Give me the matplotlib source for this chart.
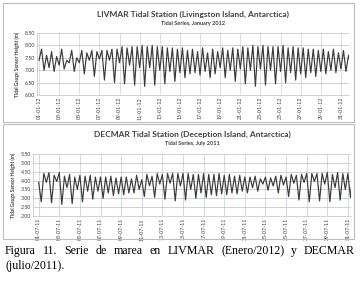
import matplotlib
matplotlib.use("Agg")
import matplotlib.pyplot as plt
from matplotlib.patches import Rectangle
import numpy as np

# tidal extrema, 4 per day
liv_start = 7.40
liv_extrema = [
    7.85, 7.00, 7.60, 7.10,  7.75, 6.95, 7.55, 7.20,  7.85, 7.05, 7.40, 7.30,
    7.80, 6.95, 7.50, 7.30,  7.80, 6.85, 7.70, 7.40,  7.80, 6.75, 7.75, 7.45,
    7.80, 6.60, 7.80, 7.40,  7.85, 6.50, 7.85, 7.30,  7.95, 6.45, 7.90, 7.20,
    7.95, 6.40, 7.95, 7.10,  8.00, 6.35, 7.95, 7.10,  8.00, 6.40, 7.95, 7.00,
    7.95, 6.45, 7.90, 6.95,  7.90, 6.55, 7.85, 6.90,  7.90, 6.70, 7.80, 6.85,
    7.85, 6.90, 7.75, 6.80,  7.90, 6.95, 7.70, 6.70,  7.85, 6.85, 7.75, 7.10,
    7.90, 6.70, 7.80, 7.00,  7.90, 6.55, 7.85, 7.05,  7.95, 6.45, 7.90, 7.00,
    8.00, 6.35, 7.95, 7.05,  8.00, 6.40, 7.95, 7.00,  7.95, 6.45, 7.95, 6.95,
    8.00, 6.50, 7.90, 6.90,  7.95, 6.60, 7.90, 6.85,  7.90, 6.70, 7.85, 6.90,
    7.85, 6.75, 7.80, 6.95,  7.85, 6.85, 7.75, 7.00,  7.85, 6.90, 7.70, 7.05,
    7.80, 6.95, 7.60, 7.20,  7.75,
]
dec_start = 3.90
dec_extrema = [
    2.80, 4.40, 3.90, 4.45,  2.75, 4.30, 3.95, 4.45,  2.65, 4.25, 3.60, 4.35,
    2.70, 4.20, 3.50, 4.30,  2.80, 4.25, 3.40, 4.30,  2.95, 4.20, 3.40, 4.20,
    3.00, 4.20, 3.30, 4.25,  3.15, 4.15, 3.25, 4.20,  3.20, 4.20, 3.30, 4.10,
    3.30, 4.30, 3.50, 4.05,  3.10, 4.35, 3.70, 4.25,  3.05, 4.40, 3.80, 4.35,
    2.95, 4.40, 3.85, 4.40,  2.85, 4.40, 3.70, 4.40,  2.90, 4.40, 3.50, 4.35,
    3.00, 4.35, 3.30, 4.40,  3.05, 4.35, 3.20, 4.35,  3.15, 4.40, 3.25, 4.30,
    3.20, 4.35, 3.30, 4.25,  3.25, 4.30, 3.40, 4.20,  3.30, 4.20, 3.60, 4.25,
    3.40, 4.10, 3.80, 4.20,  3.45, 4.15, 3.70, 4.25,  3.30, 4.30, 3.75, 4.20,
    3.10, 4.35, 3.85, 4.30,  2.90, 4.35, 3.90, 4.40,  2.80, 4.40, 3.95, 4.40,
    2.85, 4.40, 3.80, 4.45,  2.80, 4.35, 3.60, 4.45,  2.90, 4.40, 3.50, 4.40,
    3.05, 4.45, 3.80,
]
liv_ticks = [f"{d:02d}-01-12" for d in range(1, 32, 2)]
dec_ticks = [f"{d:02d}-07-11" for d in range(1, 32, 2)]

W, H = 362, 282
fig = plt.figure(figsize=(W / 100, H / 100), dpi=100)
fig.patch.set_facecolor("white")
FONT = "Lato"
DARK = "#404040"


def fx(px):
    return px / W


def fy(py):
    return 1 - py / H


def panel(box, axbox, start, ext, ticks, ylim, yticks, xlim, title, sub,
          title_y, vcolor):
    x0, y0, x1, y1 = box
    fig.patches.append(Rectangle((fx(x0), fy(y1)), fx(x1 - x0), (y1 - y0) / H,
                                 transform=fig.transFigure, fill=False,
                                 edgecolor="#bdbdbd", lw=0.8))
    ax0, ay0, ax1, ay1 = axbox
    ax = fig.add_axes([fx(ax0), fy(ay1), fx(ax1 - ax0), (ay1 - ay0) / H])
    vals = [start] + ext
    t = 1 + np.arange(len(vals)) * 0.25
    ax.plot(t, vals, color="#3a3a3a", lw=0.85)
    ax.set_xlim(*xlim)
    ax.set_ylim(*ylim)
    ax.set_yticks(yticks)
    ax.set_yticklabels([f"{v:.2f}" for v in yticks], fontsize=3.8,
                       family=FONT, color=DARK)
    ax.set_xticks(range(1, 32, 2))
    ax.set_xticklabels(ticks, rotation=90, fontsize=3.8, family=FONT,
                       color=DARK)
    ax.tick_params(length=0, pad=1.5)
    ax.grid(axis="y", color="#bfbfbf", lw=0.5)
    ax.grid(axis="x", color=vcolor, lw=0.5)
    ax.set_axisbelow(True)
    for s in ["top", "right"]:
        ax.spines[s].set_visible(False)
    for s in ["left", "bottom"]:
        ax.spines[s].set_color("#bfbfbf")
        ax.spines[s].set_linewidth(0.5)
    ax.set_ylabel("Tidal Gauge Sensor Height (m)", fontsize=3.5,
                  family=FONT, fontweight="bold", color=DARK, labelpad=3)
    cx = fx((ax0 + ax1) / 2)
    fig.text(cx, fy(title_y), title, ha="center", va="center", fontsize=6.0,
             family=FONT, fontweight="bold", color=DARK)
    fig.text(cx, fy(title_y + 9), sub, ha="center", va="center",
             fontsize=4.0, family=FONT, fontweight="bold", color=DARK)
    return ax


panel((3, 3, 354, 122), (37, 33, 349, 95), liv_start, liv_extrema, liv_ticks,
      (6.0, 8.5), [6.0, 6.5, 7.0, 7.5, 8.0, 8.5], (0.8, 31.8),
      "LIVMAR Tidal Station (Livingston Island, Antarctica)",
      "Tidal Series, January 2012", 14, "#d0d0d0")
panel((3, 124, 354, 239), (33, 154, 351, 216), dec_start, dec_extrema,
      dec_ticks, (2.0, 5.5), [2.0, 2.5, 3.0, 3.5, 4.0, 4.5, 5.0, 5.5],
      (0.45, 31.3),
      "DECMAR Tidal Station (Deception Island, Antarctica)",
      "Tidal Series, July 2011", 134, "#b8cfe8")

# caption, first line justified
line1 = "Figura 11. Serie de marea en LIVMAR (Enero/2012) y DECMAR".split()
cap_kw = dict(family="Liberation Serif", fontsize=8.6, color="black",
              va="baseline")
r = fig.canvas.get_renderer()
widths = []
for w in line1:
    tt = fig.text(0, 0, w, **cap_kw)
    widths.append(tt.get_window_extent(r).width)
    tt.remove()
left, right = 5, 355
gap = (right - left - sum(widths)) / (len(line1) - 1)
x = left
for w, wd in zip(line1, widths):
    fig.text(fx(x), fy(254), w, **cap_kw)
    x += wd + gap
fig.text(fx(left), fy(269), "(julio/2011).", **cap_kw)

fig.savefig("out.png", dpi=100, facecolor="white")
